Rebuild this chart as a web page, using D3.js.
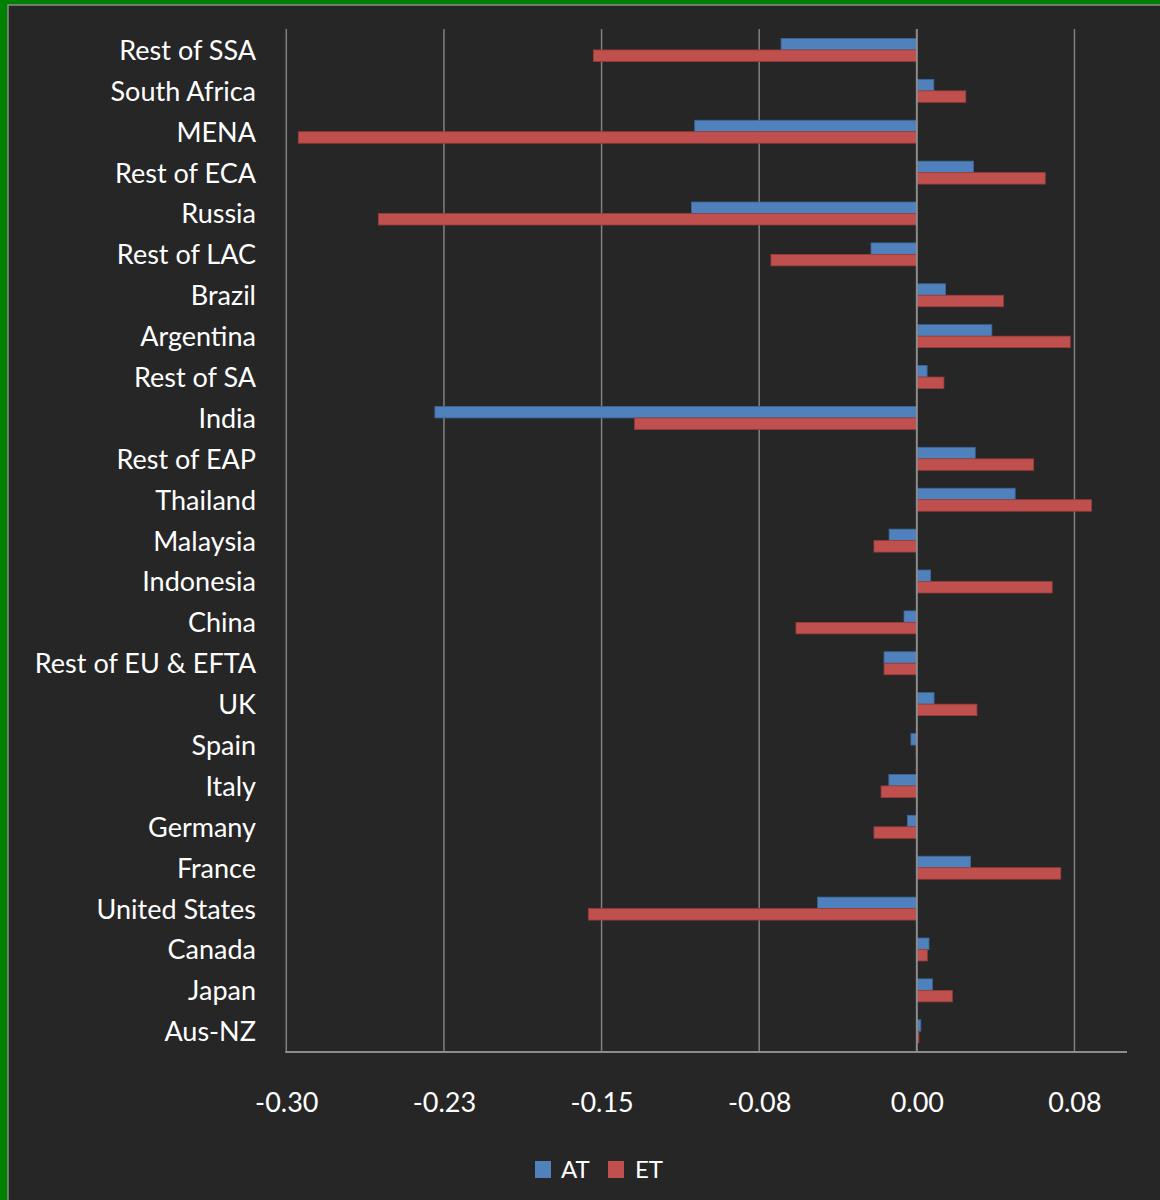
<!DOCTYPE html>
<html>
<head>
<meta charset="utf-8">
<script src="https://cdn.jsdelivr.net/npm/d3@7"></script>
<style>
  html, body { margin: 0; padding: 0; background: #008000; }
  svg { display: block; }
  text { font-family: Lato, "Open Sans", sans-serif; fill: #ffffff; }
</style>
</head>
<body>
<svg id="chart" width="1160" height="1200"></svg>
<script>
const categories = ["Rest of SSA","South Africa","MENA","Rest of ECA","Russia","Rest of LAC","Brazil","Argentina","Rest of SA","India","Rest of EAP","Thailand","Malaysia","Indonesia","China","Rest of EU & EFTA","UK","Spain","Italy","Germany","France","United States","Canada","Japan","Aus-NZ"];
const seriesNames = ["AT","ET"];
const atValues = [-0.0646,0.0081,-0.1057,0.0270,-0.1072,-0.0218,0.0137,0.0357,0.0049,-0.2293,0.0278,0.0468,-0.0132,0.0066,-0.0061,-0.0156,0.0082,-0.0028,-0.0133,-0.0045,0.0256,-0.0472,0.0058,0.0074,0.0019];
const etValues = [-0.1539,0.0233,-0.2943,0.0611,-0.2562,-0.0694,0.0412,0.0730,0.0129,-0.1343,0.0556,0.0831,-0.0204,0.0644,-0.0575,-0.0156,0.0286,-0.0003,-0.0170,-0.0204,0.0685,-0.1563,0.0050,0.0169,0.0010];
const tickValues = [-0.3,-0.225,-0.15,-0.075,0,0.075];
const tickLabels = ["-0.30","-0.23","-0.15","-0.08","0.00","0.08"];
const xDomain = [-0.3, 0.1];

const colors = { AT: "#4F81BD", ET: "#C0504D" };
const strokes = { AT: "#3d6698", ET: "#983d3a" };

const svg = d3.select("#chart");

// chart area background
svg.append("rect")
  .attr("x", 8).attr("y", 5)
  .attr("width", 1160).attr("height", 1200)
  .attr("fill", "#262626")
  .attr("stroke", "#8a8a8a").attr("stroke-width", 1.5);

const x = d3.scaleLinear().domain(xDomain).range([286.3, 1127]);
const y = d3.scaleBand().domain(categories).range([29.5, 1051.7]).padding(0);
const ySub = d3.scaleBand().domain(seriesNames).range([0, y.bandwidth()]).paddingInner(0).paddingOuter(0.78);

const data = categories.map((c, i) => ({ cat: c, AT: atValues[i], ET: etValues[i] }));

// gridlines
svg.append("g").selectAll("line")
  .data(tickValues.filter(t => t !== 0))
  .join("line")
  .attr("x1", d => x(d)).attr("x2", d => x(d))
  .attr("y1", 29).attr("y2", 1052)
  .attr("stroke", "#808080").attr("stroke-width", 1.5);

// bars
const rows = svg.append("g").selectAll("g")
  .data(data)
  .join("g")
  .attr("transform", d => `translate(0,${y(d.cat)})`);

rows.selectAll("rect")
  .data(d => seriesNames.map(s => ({ s, v: d[s] })))
  .join("rect")
  .attr("x", d => Math.min(x(0), x(d.v)))
  .attr("width", d => Math.abs(x(d.v) - x(0)))
  .attr("y", d => ySub(d.s))
  .attr("height", ySub.bandwidth())
  .attr("fill", d => colors[d.s])
  .attr("stroke", d => strokes[d.s])
  .attr("stroke-width", 0.8);

// vertical category axis at zero
svg.append("line")
  .attr("x1", x(0)).attr("x2", x(0))
  .attr("y1", 29).attr("y2", 1052)
  .attr("stroke", "#8c8c8c").attr("stroke-width", 2);

// bottom axis line
svg.append("line")
  .attr("x1", x(xDomain[0]) - 1).attr("x2", x(xDomain[1]))
  .attr("y1", 1052).attr("y2", 1052)
  .attr("stroke", "#8c8c8c").attr("stroke-width", 2);

// x tick labels via axis
const xAxis = d3.axisBottom(x)
  .tickValues(tickValues)
  .tickFormat((d, i) => tickLabels[i])
  .tickSize(0)
  .tickPadding(0);
const gx = svg.append("g").attr("transform", "translate(0,1052)").call(xAxis);
gx.select(".domain").remove();
gx.selectAll("text")
  .attr("y", 60).attr("dy", null)
  .attr("font-size", 27)
  .attr("font-family", "Lato, 'Open Sans', sans-serif")
  .attr("fill", "#ffffff");

// category labels
svg.append("g").selectAll("text")
  .data(categories)
  .join("text")
  .attr("x", 256)
  .attr("y", d => y(d) + y.bandwidth() / 2 + 10)
  .attr("text-anchor", "end")
  .attr("font-size", 27)
  .text(d => d);

// legend
const legend = svg.append("g");
const legendItems = [
  { s: "AT", sx: 535, tx: 561 },
  { s: "ET", sx: 608, tx: 635 }
];
legend.selectAll("rect").data(legendItems).join("rect")
  .attr("x", d => d.sx).attr("y", 1161)
  .attr("width", 16).attr("height", 17)
  .attr("fill", d => colors[d.s]);
legend.selectAll("text").data(legendItems).join("text")
  .attr("x", d => d.tx).attr("y", 1178)
  .attr("font-size", 24)
  .text(d => d.s);
</script>
</body>
</html>
